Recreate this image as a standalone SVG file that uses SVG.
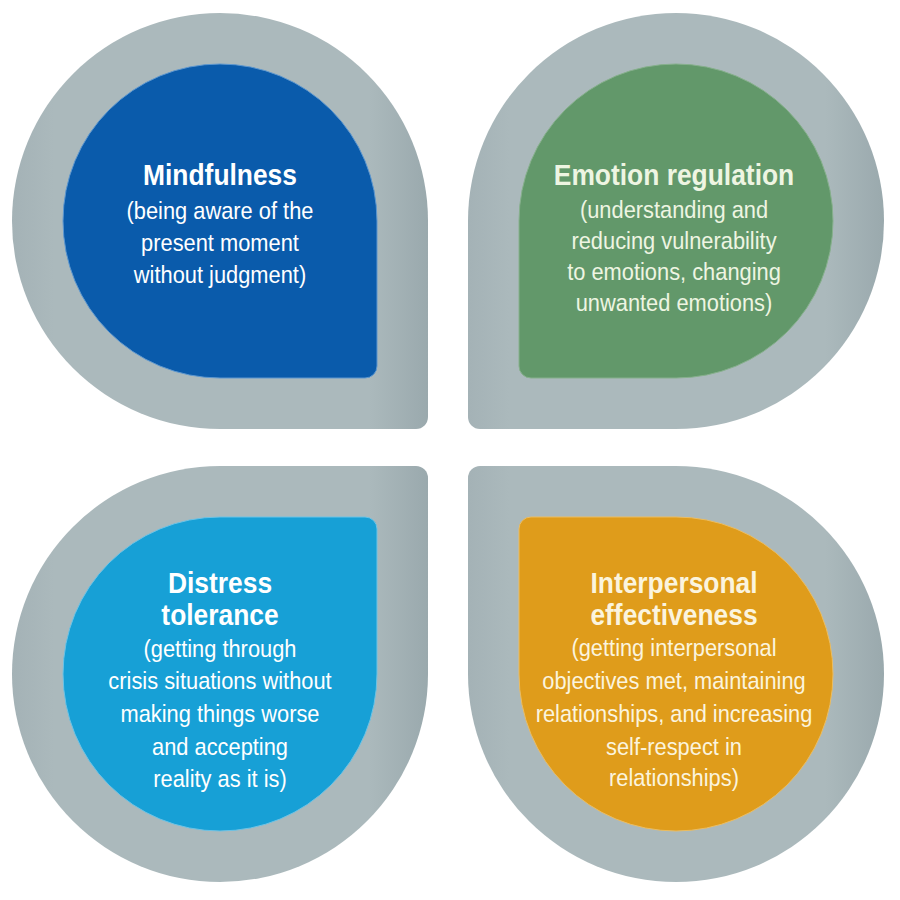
<svg xmlns="http://www.w3.org/2000/svg" width="900" height="900" viewBox="0 0 900 900">
  <defs>
    <linearGradient id="gray" x1="0" y1="0" x2="1" y2="0">
      <stop offset="0" stop-color="#a4b2b6"/>
      <stop offset="0.1" stop-color="#abb9bc"/>
      <stop offset="0.86" stop-color="#abb9bc"/>
      <stop offset="1" stop-color="#9aa9ad"/>
    </linearGradient>
    <style>
      .outer { fill: url(#gray); }
      .t { font-family: "Liberation Sans", Arial, sans-serif; font-weight: bold; font-size: 29px; text-anchor: middle; }
      .b { font-family: "Liberation Sans", Arial, sans-serif; font-size: 24px; text-anchor: middle; }
    </style>
  </defs>
  <rect width="900" height="900" fill="#ffffff"/>

  <g id="mindfulness">
    <path class="outer" d="M 12,221 A 208 208 0 0 1 220,13 A 208 208 0 0 1 428,221 L 428,417 A 12 12 0 0 1 416,429 L 220,429 A 208 208 0 0 1 12,221 Z"/>
    <path fill="#0a5bab" stroke="#5d97cf" stroke-width="1" d="M 63,221 A 157 157 0 0 1 220,64 A 157 157 0 0 1 377,221 L 377,366 A 12 12 0 0 1 365,378 L 220,378 A 157 157 0 0 1 63,221 Z"/>
    <g transform="translate(220,0) scale(0.91,1)" fill="#ffffff">
      <text class="t" x="0" y="185">Mindfulness</text>
      <text class="b" x="0" y="219">(being aware of the</text>
      <text class="b" x="0" y="251">present moment</text>
      <text class="b" x="0" y="283">without judgment)</text>
    </g>
  </g>

  <g id="emotion-regulation">
    <path class="outer" d="M 468,221 A 208 208 0 0 1 676,13 A 208 208 0 0 1 884,221 A 208 208 0 0 1 676,429 L 480,429 A 12 12 0 0 1 468,417 Z"/>
    <path fill="#62986a" stroke="#86b08c" stroke-width="1" d="M 519,221 A 157 157 0 0 1 676,64 A 157 157 0 0 1 833,221 A 157 157 0 0 1 676,378 L 531,378 A 12 12 0 0 1 519,366 Z"/>
    <g transform="translate(674,0) scale(0.91,1)" fill="#eef5e2">
      <text class="t" x="0" y="185">Emotion regulation</text>
      <text class="b" x="0" y="218">(understanding and</text>
      <text class="b" x="0" y="249">reducing vulnerability</text>
      <text class="b" x="0" y="280">to emotions, changing</text>
      <text class="b" x="0" y="311">unwanted emotions)</text>
    </g>
  </g>

  <g id="distress-tolerance">
    <path class="outer" d="M 12,674 A 208 208 0 0 1 220,466 L 416,466 A 12 12 0 0 1 428,478 L 428,674 A 208 208 0 0 1 220,882 A 208 208 0 0 1 12,674 Z"/>
    <path fill="#17a0d6" stroke="#6cc3e6" stroke-width="1" d="M 63,674 A 157 157 0 0 1 220,517 L 365,517 A 12 12 0 0 1 377,529 L 377,674 A 157 157 0 0 1 220,831 A 157 157 0 0 1 63,674 Z"/>
    <g transform="translate(220,0) scale(0.91,1)" fill="#ffffff">
      <text class="t" x="0" y="593">Distress</text>
      <text class="t" x="0" y="625">tolerance</text>
      <text class="b" x="0" y="657">(getting through</text>
      <text class="b" x="0" y="689">crisis situations without</text>
      <text class="b" x="0" y="722">making things worse</text>
      <text class="b" x="0" y="755">and accepting</text>
      <text class="b" x="0" y="787">reality as it is)</text>
    </g>
  </g>

  <g id="interpersonal-effectiveness">
    <path class="outer" d="M 468,478 A 12 12 0 0 1 480,466 L 676,466 A 208 208 0 0 1 884,674 A 208 208 0 0 1 676,882 A 208 208 0 0 1 468,674 Z"/>
    <path fill="#df9c1b" stroke="#ebbd62" stroke-width="1" d="M 519,529 A 12 12 0 0 1 531,517 L 676,517 A 157 157 0 0 1 833,674 A 157 157 0 0 1 676,831 A 157 157 0 0 1 519,674 Z"/>
    <g transform="translate(674,0) scale(0.91,1)" fill="#fbf4de">
      <text class="t" x="0" y="593">Interpersonal</text>
      <text class="t" x="0" y="625">effectiveness</text>
      <text class="b" x="0" y="656">(getting interpersonal</text>
      <text class="b" x="0" y="689">objectives met, maintaining</text>
      <text class="b" x="0" y="722">relationships, and increasing</text>
      <text class="b" x="0" y="755">self-respect in</text>
      <text class="b" x="0" y="786">relationships)</text>
    </g>
  </g>

  <g id="connectors"/>
</svg>
